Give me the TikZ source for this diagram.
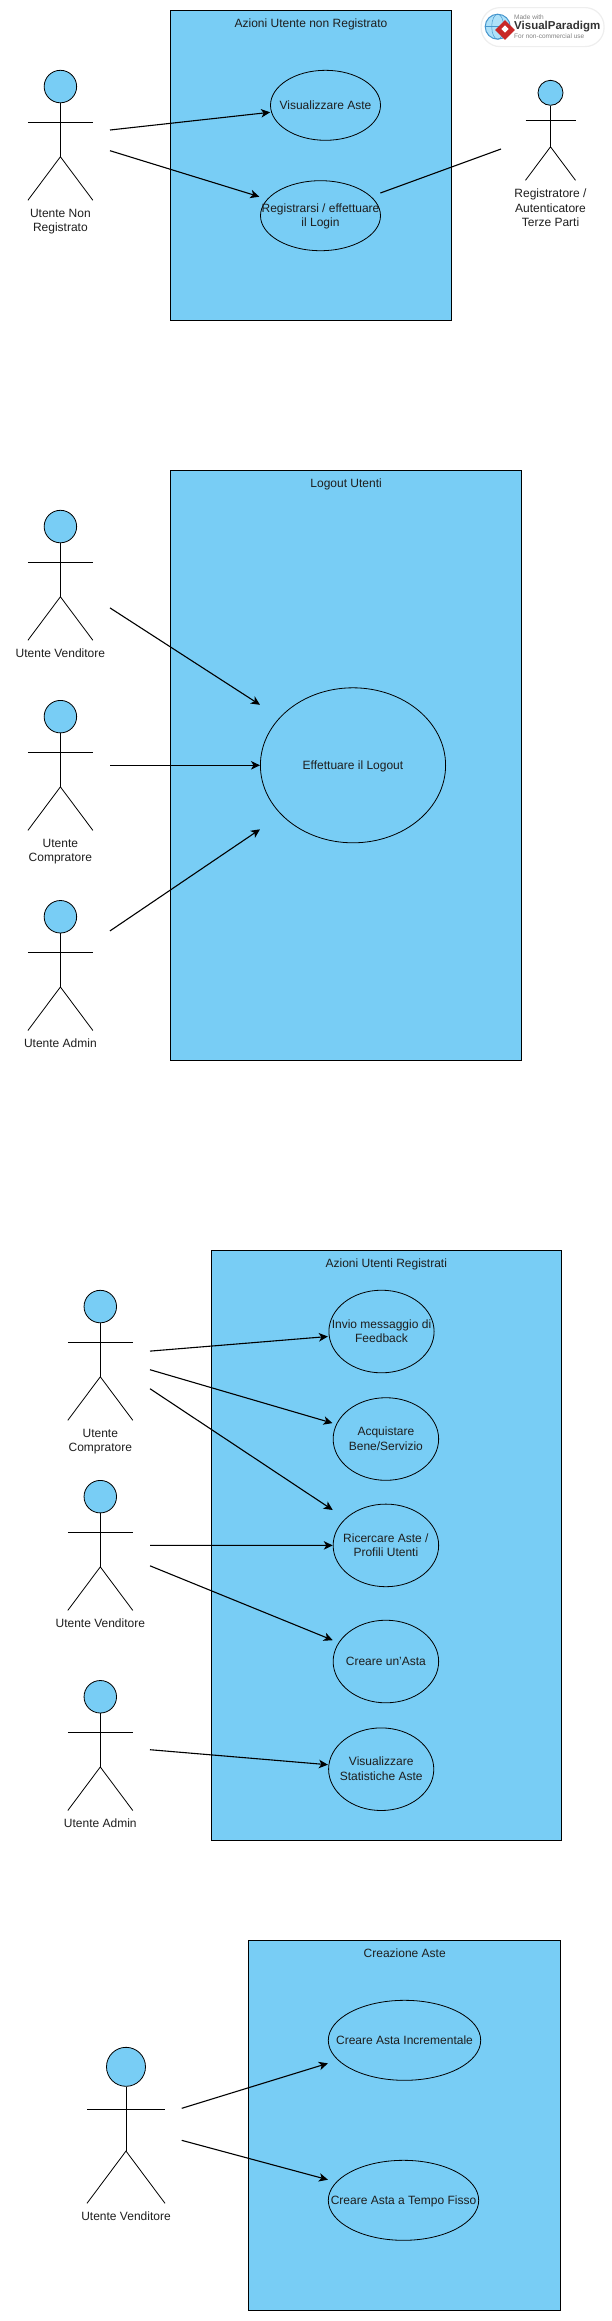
\documentclass[tikz,border=0pt]{standalone}
\usepackage{fontspec}
\setmainfont{Liberation Sans}
\usetikzlibrary{arrows.meta,calc,positioning,shapes.geometric}
\definecolor{panelblue}{RGB}{120,205,245}
\definecolor{inkgrey}{RGB}{30,30,30}
\definecolor{logogrey}{RGB}{130,130,130}
\definecolor{logoedge}{RGB}{238,238,238}
\definecolor{logored}{RGB}{200,40,40}
\definecolor{globeblue}{RGB}{70,150,205}
\tikzset{
  panel/.style={draw=black,fill=panelblue,line width=0.9pt,anchor=north west,inner sep=0pt},
  paneltitle/.style={font=\fontsize{12}{14.5}\selectfont,text=inkgrey,inner sep=0pt},
  usecase/.style={ellipse,draw=black,line width=0.8pt,inner sep=0pt,
    font=\fontsize{12}{14.5}\selectfont,text=inkgrey},
  head/.style={ellipse,draw=black,fill=panelblue,line width=0.8pt,inner sep=0pt},
  stick/.style={draw=black,line width=0.8pt},
  actorlabel/.style={font=\fontsize{12}{14.5}\selectfont,text=inkgrey,align=center,inner sep=0pt},
  flow/.style={-{Stealth[length=9pt,width=8.5pt,inset=2.5pt]},line width=1.1pt,draw=black},
  assoc/.style={line width=1.1pt,draw=black},
  logotext/.style={anchor=west,inner sep=0pt}
}
\newcommand{\casetext}[1]{\raisebox{-4pt}[0pt][0pt]{\makebox[0pt]{\begin{tabular}{@{}c@{}}#1\end{tabular}}}}
% id, centre x, top y, width, height, label
\newcommand{\actor}[6]{
  \node[head,minimum width=#4*0.5pt,minimum height=#5*0.25pt] (#1head) at (#2,#3+#5*0.125) {};
  \coordinate (#1hip) at (#2,#3+#5*0.665);
  \coordinate (#1larm) at (#2-#4*0.5,#3+#5*0.4);
  \coordinate (#1rarm) at (#2+#4*0.5,#3+#5*0.4);
  \coordinate (#1lfoot) at (#2-#4*0.5,#3+#5);
  \coordinate (#1rfoot) at (#2+#4*0.5,#3+#5);
  \coordinate (#1foot) at (#2,#3+#5);
  \draw[stick] (#1head) -- (#1hip);
  \draw[stick] (#1larm) -- (#1rarm);
  \draw[stick] (#1lfoot) -- (#1hip) -- (#1rfoot);
  \node[actorlabel,below=8.5pt of #1foot] (#1label) {#6};
}
\begin{document}
\begin{tikzpicture}[x=1pt,y=-1pt]
  \useasboundingbox (0,0) rectangle (611,2321);
  % non registered user
  \node[panel,minimum width=280.3pt,minimum height=310pt] (panelGuest) at (170.4,10.3) {};
  \node[paneltitle,below=8.5pt of panelGuest.north] (titleGuest) {Azioni Utente non Registrato};
  \node[usecase,minimum width=110pt,minimum height=70pt] (viewAuctions) at (325.5,105.3) {\casetext{Visualizzare Aste}};
  \node[usecase,minimum width=120pt,minimum height=70pt] (login) at (320.5,215.7) {\casetext{Registrarsi / effettuare\\il Login}};
  \actor{guest}{60.4}{70.3}{65}{130}{Utente Non\\Registrato}
  \actor{third}{550.5}{80.3}{50}{100}{Registratore /\\Autenticatore\\Terze Parti}
  \coordinate (guestOutA) at (110,130);
  \coordinate (guestOutB) at (110,150.7);
  \coordinate (thirdIn) at (501,149);
  \draw[flow] (guestOutA) -- ([shift={(0,7)}]viewAuctions.west);
  \draw[flow] (guestOutB) -- ([shift={(-0.8,-19)}]login.west);
  \draw[assoc] ([shift={(-0.5,-22.7)}]login.east) -- (thirdIn);
  % watermark
  \node[draw=logoedge,line width=1.2pt,fill=white,rounded corners=19pt,minimum width=123pt,minimum height=39pt,anchor=north west] (logo) at (480.5,7) {};
  \node[circle,draw=globeblue,fill=panelblue!60!white,line width=1pt,minimum size=25pt,inner sep=0pt] (logoGlobe) at (497.7,26.7) {};
  \node[ellipse,draw=globeblue,line width=0.5pt,minimum width=12pt,minimum height=25pt,inner sep=0pt] (logoMeridian) at (logoGlobe) {};
  \draw[globeblue,line width=0.5pt] (logoGlobe.west) -- (logoGlobe.east);
  \node[diamond,fill=logored,minimum size=20pt,inner sep=0pt] (logoMark) at (505,30) {};
  \node[fill=white,rotate=45,minimum size=5pt,inner sep=0pt] (logoInner) at (505,29) {};
  \node[logotext,text=logogrey,font=\fontsize{6.5}{8}\selectfont] (logoMade) at (514,17) {Made with};
  \node[logotext,text=black!80,font=\fontsize{11.5}{14}\selectfont\bfseries] (logoName) at (514,26.5) {VisualParadigm};
  \node[logotext,text=logogrey,font=\fontsize{6.5}{8}\selectfont] (logoUse) at (514,36) {For non-commercial use};
  % logout
  \node[panel,minimum width=350.5pt,minimum height=590pt] (panelLogout) at (170.4,470.3) {};
  \node[paneltitle,below=8.5pt of panelLogout.north] (titleLogout) {Logout Utenti};
  \node[usecase,minimum width=185.2pt,minimum height=155pt] (logout) at (353,765.3) {\casetext{Effettuare il Logout}};
  \actor{seller}{60.4}{510.3}{65}{130}{Utente Venditore}
  \actor{buyer}{60.4}{700.4}{65}{130}{Utente\\Compratore}
  \actor{admin}{60.4}{900.5}{65}{130}{Utente Admin}
  \coordinate (sellerOut) at (110,607.9);
  \coordinate (buyerOut) at (110,765.3);
  \coordinate (adminOut) at (110,930.9);
  \draw[flow] (sellerOut) -- ([shift={(0,-60.5)}]logout.west);
  \draw[flow] (buyerOut) -- (logout.west);
  \draw[flow] (adminOut) -- ([shift={(0,64)}]logout.west);
  % registered users
  \node[panel,minimum width=350.3pt,minimum height=590pt] (panelUsers) at (210.7,1250.3) {};
  \node[paneltitle,below=8.5pt of panelUsers.north] (titleUsers) {Azioni Utenti Registrati};
  \node[usecase,minimum width=105.2pt,minimum height=82.6pt] (feedback) at (381.5,1331.5) {\casetext{Invio messaggio di\\Feedback}};
  \node[usecase,minimum width=105.5pt,minimum height=82.6pt] (purchase) at (385.9,1439) {\casetext{Acquistare\\Bene/Servizio}};
  \node[usecase,minimum width=105.5pt,minimum height=82.6pt] (search) at (385.9,1545.4) {\casetext{Ricercare Aste /\\Profili Utenti}};
  \node[usecase,minimum width=105.5pt,minimum height=82.6pt] (create) at (385.9,1661.5) {\casetext{Creare un'Asta}};
  \node[usecase,minimum width=105.2pt,minimum height=82.6pt] (stats) at (381.2,1769.2) {\casetext{Visualizzare\\Statistiche Aste}};
  \actor{buyerB}{100.3}{1290.3}{65}{130}{Utente\\Compratore}
  \actor{sellerB}{100.3}{1480.4}{65}{130}{Utente Venditore}
  \actor{adminB}{100.3}{1680.5}{65}{130}{Utente Admin}
  \coordinate (buyerOutA) at (150,1351.1);
  \coordinate (buyerOutB) at (150,1369.7);
  \coordinate (buyerOutC) at (150,1388.7);
  \coordinate (sellerOutA) at (150,1545.3);
  \coordinate (sellerOutB) at (150,1565.8);
  \coordinate (adminOutB) at (150,1749.7);
  \draw[flow] (buyerOutA) -- ([shift={(-0.6,5)}]feedback.west);
  \draw[flow] (buyerOutB) -- ([shift={(-0.3,-15.9)}]purchase.west);
  \draw[flow] (buyerOutC) -- ([shift={(0,-35.4)}]search.west);
  \draw[flow] (sellerOutA) -- (search.west);
  \draw[flow] (sellerOutB) -- ([shift={(0,-21.3)}]create.west);
  \draw[flow] (adminOutB) -- ([shift={(-0.3,-4.5)}]stats.west);
  % auction creation
  \node[panel,minimum width=312pt,minimum height=369.7pt] (panelCreate) at (248.3,1940.3) {};
  \node[paneltitle,below=8.5pt of panelCreate.north] (titleCreate) {Creazione Aste};
  \node[usecase,minimum width=152.4pt,minimum height=80pt] (incremental) at (404.5,2040.3) {\casetext{Creare Asta Incrementale}};
  \node[usecase,minimum width=150.4pt,minimum height=80pt] (fixedTime) at (403.5,2200.3) {\casetext{Creare Asta a Tempo Fisso}};
  \actor{sellerC}{126}{2047.3}{78}{156}{Utente Venditore}
  \coordinate (sellerOutC) at (181.7,2108.3);
  \coordinate (sellerOutD) at (181.7,2140.3);
  \draw[flow] (sellerOutC) -- ([shift={(0,23)}]incremental.west);
  \draw[flow] (sellerOutD) -- ([shift={(0,-20.6)}]fixedTime.west);
\end{tikzpicture}
\end{document}
